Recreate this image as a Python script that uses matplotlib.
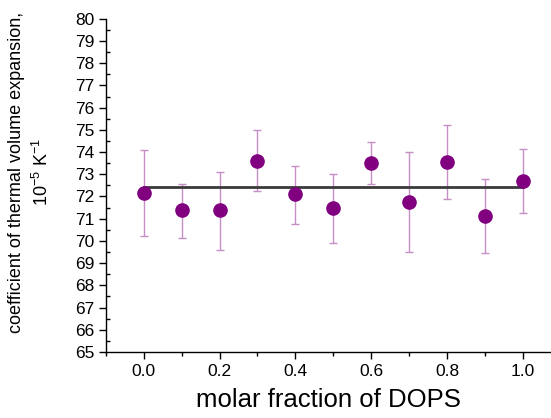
import matplotlib
matplotlib.use("Agg")
import matplotlib.pyplot as plt
from matplotlib.ticker import MultipleLocator

plt.rcParams['font.family'] = ['Liberation Sans', 'DejaVu Sans']
plt.rcParams['mathtext.fontset'] = 'custom'
plt.rcParams['mathtext.rm'] = 'Liberation Sans'
plt.rcParams['mathtext.it'] = 'Liberation Sans:italic'
plt.rcParams['mathtext.bf'] = 'Liberation Sans:bold'

x = [0.0, 0.1, 0.2, 0.3, 0.4, 0.5, 0.6, 0.7, 0.8, 0.9, 1.0]
y = [72.15, 71.37, 71.37, 73.62, 72.09, 71.46, 73.53, 71.76, 73.54, 71.11, 72.70]
y_top = [74.08, 72.57, 73.12, 74.98, 73.39, 73.00, 74.47, 74.00, 75.21, 72.79, 74.13]
y_bot = [70.20, 70.15, 69.60, 72.24, 70.78, 69.90, 72.55, 69.49, 71.88, 69.45, 71.25]
mean_x = [0.0, 1.0]
mean_y = [72.43, 72.43]

err_lo = [a - b for a, b in zip(y, y_bot)]
err_hi = [b - a for a, b in zip(y, y_top)]

fig = plt.figure(figsize=(5.51, 4.18), dpi=100)
ax = fig.add_axes([0.192, 0.158, 0.808, 0.797])

ax.errorbar(x, y, yerr=[err_lo, err_hi], fmt='none', ecolor='#c58ec5',
            elinewidth=1.0, capsize=3, capthick=1.0, zorder=2)
ax.plot(mean_x, mean_y, color='#3a3a3a', lw=2.0, zorder=3)
ax.plot(x, y, 'o', color='#800080', markersize=9.5, zorder=4)

ax.set_xlim(-0.1, 1.074)
ax.set_ylim(65, 80)
ax.xaxis.set_major_locator(MultipleLocator(0.2))
ax.xaxis.set_minor_locator(MultipleLocator(0.1))
ax.yaxis.set_major_locator(MultipleLocator(1))
ax.yaxis.set_minor_locator(MultipleLocator(0.5))
ax.xaxis.set_major_formatter(matplotlib.ticker.FormatStrFormatter('%.1f'))

for s in ['top', 'right']:
    ax.spines[s].set_visible(False)
for s in ['left', 'bottom']:
    ax.spines[s].set_linewidth(1.0)

ax.tick_params(axis='y', which='major', direction='out', length=5, width=1, labelsize=12.5, pad=3)
ax.tick_params(axis='y', which='minor', direction='in', length=3, width=1)
ax.tick_params(axis='x', which='major', direction='out', length=5, width=1, labelsize=12.5, pad=4)
ax.tick_params(axis='x', which='minor', direction='out', length=3, width=1)

ax.set_xlabel('molar fraction of DOPS', fontsize=18.5, labelpad=6)
ax.set_ylabel('coefficient of thermal volume expansion,\n10$^{-5}$ K$^{-1}$', fontsize=13,
              linespacing=1.4)
ax.yaxis.set_label_coords(-0.121, 0.54)

fig.savefig('out.png', dpi=100)
